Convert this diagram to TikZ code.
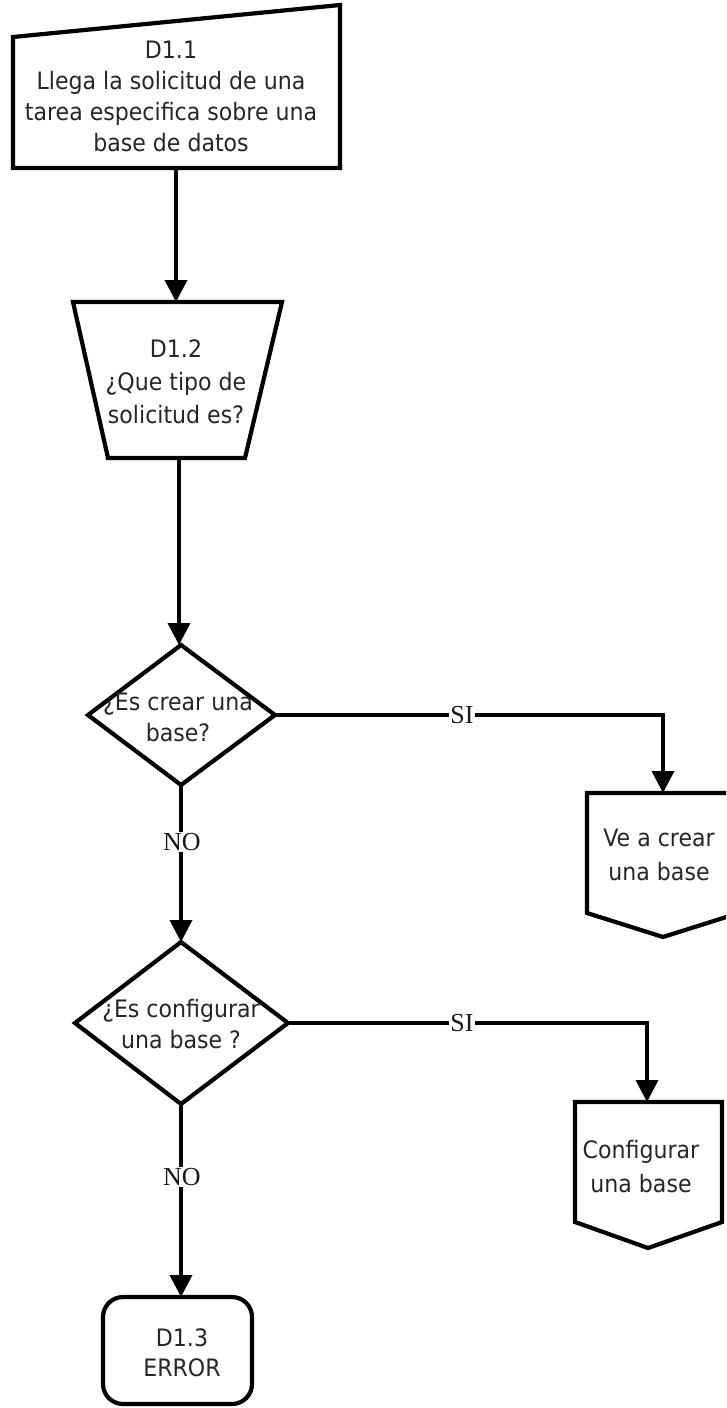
\documentclass[tikz,border=0pt]{standalone}
\usepackage{fontspec}
\usetikzlibrary{arrows.meta}
\newfontfamily\boxfont[FakeStretch=0.92]{DejaVu Sans}
\newfontfamily\tagfont{Liberation Serif}
\begin{document}
\begin{tikzpicture}[x=1pt,y=-1pt,
  outline/.style={draw=black, line width=4.2pt, line join=miter, fill=white},
  flow/.style={draw=black, line width=3.6pt, -{Triangle[length=22pt,width=22pt]}},
  boxtext/.style={font=\boxfont\fontsize{24}{31}\selectfont, align=center, inner sep=0pt, text=black!85},
  tag/.style={font=\tagfont\fontsize{26}{26}\selectfont, fill=white, inner sep=1pt, text=black!90},
]
\useasboundingbox (0,0) rectangle (726,1408);
\clip (0,0) rectangle (726,1408);

% D1.1 : manual input
\draw[outline] (13,37) -- (340,5) -- (340,168) -- (13,168) -- cycle;
\coordinate (inS) at (176,168);
\node[boxtext] (input) at (171,96) {D1.1\\Llega la solicitud de una\\tarea especifica sobre una\\base de datos};

% D1.2 : manual operation (trapezoid)
\draw[outline] (73,302) -- (282,302) -- (245,458) -- (108,458) -- cycle;
\coordinate (opN) at (176,302);
\coordinate (opS) at (179,458);
\node[boxtext, font=\boxfont\fontsize{24}{33}\selectfont] (oper) at (176,382) {D1.2\\¿Que tipo de\\solicitud es?};

% first decision
\draw[outline] (181,645) -- (275,715) -- (181,785) -- (88,715) -- cycle;
\coordinate (dAN) at (179,645);
\coordinate (dAE) at (275,715);
\coordinate (dAS) at (181,785);
\node[boxtext] (decA) at (178,717) {¿Es crear una\\base?};

% off-page: create
\draw[outline] (587,793) -- (739,793) -- (739,913) -- (663,937) -- (587,913) -- cycle;
\coordinate (crN) at (663,793);
\node[boxtext, font=\boxfont\fontsize{24}{34}\selectfont] (create) at (659,855) {Ve a crear\\una base};

% second decision
\draw[outline] (181,942) -- (288,1023) -- (181,1104) -- (75,1023) -- cycle;
\coordinate (dBN) at (181,942);
\coordinate (dBE) at (288,1023);
\coordinate (dBS) at (181,1104);
\node[boxtext] (decB) at (181,1024) {¿Es configurar\\una base ?};

% off-page: configure
\draw[outline] (575,1102) -- (722,1102) -- (722,1222) -- (648,1248) -- (575,1222) -- cycle;
\coordinate (cfN) at (647,1102);
\node[boxtext, font=\boxfont\fontsize{24}{34}\selectfont] (config) at (641,1167) {Configurar\\una base};

% D1.3 : terminator
\draw[outline, rounded corners=20pt] (103,1297) rectangle (252,1404);
\coordinate (erN) at (181,1297);
\node[boxtext, font=\boxfont\fontsize{24}{30}\selectfont] (err) at (182,1353) {D1.3\\ERROR};

% connectors
\draw[flow] (inS) -- (opN);
\draw[flow] (opS) -- (dAN);
\draw[flow] (dAE) -- (663,715) -- (crN);
\draw[flow] (dAS) -- (dBN);
\draw[flow] (dBE) -- (647,1023) -- (cfN);
\draw[flow] (dBS) -- (erN);

% branch labels
\node[tag] (siA) at (462,715) {SI};
\node[tag] (noA) at (182,842) {NO};
\node[tag] (siB) at (462,1023) {SI};
\node[tag] (noB) at (182,1177) {NO};
\end{tikzpicture}
\end{document}
